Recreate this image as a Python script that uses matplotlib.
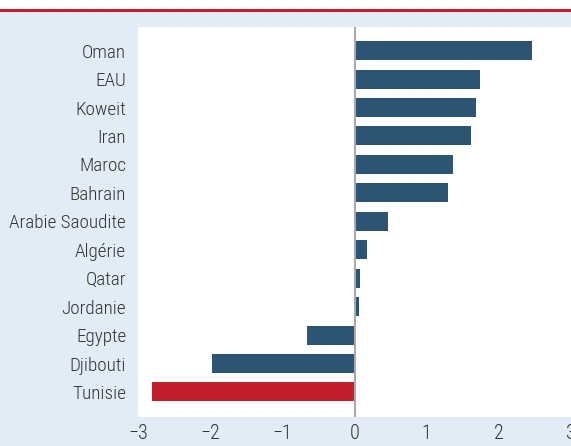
import matplotlib
matplotlib.use("Agg")
import matplotlib.pyplot as plt
from matplotlib.patches import Rectangle
from matplotlib.lines import Line2D

countries = ["Oman", "EAU", "Koweit", "Iran", "Maroc", "Bahrain", "Arabie Saoudite",
             "Algérie", "Qatar", "Jordanie", "Egypte", "Djibouti", "Tunisie"]
values = [2.46, 1.74, 1.69, 1.62, 1.37, 1.30, 0.46, 0.18, 0.08, 0.06, -0.66, -1.98, -2.81]
highlight = "Tunisie"
xticks = [-3, -2, -1, 0, 1, 2, 3]

plt.rcParams['font.family'] = ['Roboto Condensed', 'Archivo Narrow', 'DejaVu Sans']

W, H = 571, 446
fig = plt.figure(figsize=(W / 100, H / 100), dpi=100)
fig.patch.set_facecolor("white")
bg = "#e1ecf6"
fig.patches.append(Rectangle((0, 0), 1, 1 - 10 / H, transform=fig.transFigure,
                             facecolor=bg, edgecolor="none", zorder=-10))
fig.lines.append(Line2D([0, 1], [1 - 10 / H, 1 - 10 / H], transform=fig.transFigure,
                        color="#c1202a", linewidth=2.2))

left, right, top, bottom = 138, 571, 27, 417
ax = fig.add_axes([left / W, 1 - bottom / H, (right - left) / W, (bottom - top) / H])
ax.set_facecolor("white")

colors = ["#c1202a" if c == highlight else "#2b5573" for c in countries]
ypos = list(range(len(countries)))
ax.barh(ypos, values, height=0.67, color=colors, zorder=2)
ax.axvline(0, color="#aaaaaa", linewidth=1.5, zorder=3)

ax.set_xlim(-3, 3)
ax.set_ylim(12.88, -0.83)
ax.set_yticks(ypos)
ax.set_yticklabels(countries)
ax.set_xticks(xticks)
ax.set_xticklabels([str(t).replace("-", "\u2212") for t in xticks])
ax.tick_params(axis="both", length=0, colors="#333333", labelsize=13.8)
ax.tick_params(axis="x", labelsize=14.5)
ax.tick_params(axis="y", pad=8.5)
ax.tick_params(axis="x", pad=5)
for lab in ax.get_xticklabels() + ax.get_yticklabels():
    lab.set_fontweight("light")
for s in ax.spines.values():
    s.set_visible(False)

fig.savefig("out.png", dpi=100, facecolor=fig.get_facecolor())
